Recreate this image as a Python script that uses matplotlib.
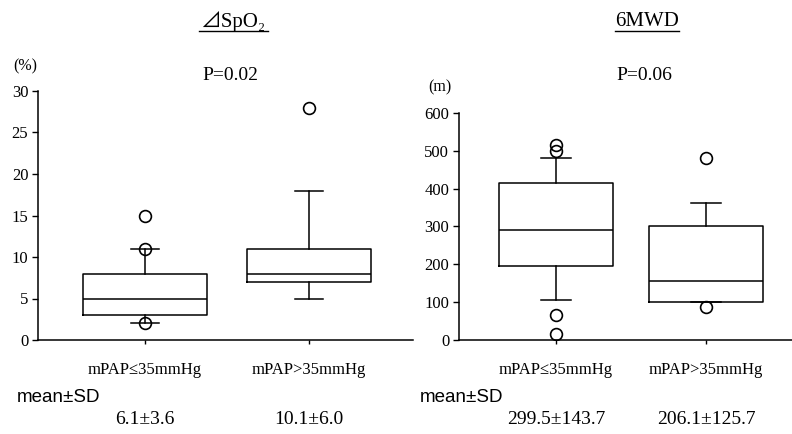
import matplotlib
matplotlib.use("Agg")
import matplotlib.pyplot as plt
from matplotlib.lines import Line2D
from matplotlib.transforms import blended_transform_factory

# ── data ──────────────────────────────────────────────────────────────────────
groups = ["mPAP≤35mmHg", "mPAP>35mmHg"]

spo2_q1 = [3, 7]
spo2_med = [5, 8]
spo2_q3 = [8, 11]
spo2_whislo = [2, 5]
spo2_whishi = [11, 18]
spo2_fliers = [[15, 11, 2], [28]]
spo2_ticks = [0, 5, 10, 15, 20, 25, 30]
spo2_summary = ["6.1±3.6", "10.1±6.0"]

mwd_q1 = [195, 100]
mwd_med = [290, 155]
mwd_q3 = [415, 300]
mwd_whislo = [105, 100]
mwd_whishi = [480, 362]
mwd_fliers = [[515, 500, 65, 15], [482, 88]]
mwd_ticks = [0, 100, 200, 300, 400, 500, 600]
mwd_summary = ["299.5±143.7", "206.1±125.7"]

SERIF = ["Liberation Serif", "Noto Sans CJK JP", "DejaVu Sans"]
plt.rcParams["font.family"] = SERIF

W, H = 792, 434
fig = plt.figure(figsize=(W / 100, H / 100), dpi=100)


def fx(x):
    return x / W


def fy(y):
    return 1 - y / H


def make_stats(q1, med, q3, lo, hi, fl):
    return [dict(q1=a, med=b, q3=c, whislo=d, whishi=e, fliers=f)
            for a, b, c, d, e, f in zip(q1, med, q3, lo, hi, fl)]


def draw_panel(rect, stats, ticks, ylim, xlim, capw):
    ax = fig.add_axes(rect)
    lw = 1.1
    ax.bxp(stats, positions=[1, 2], widths=0.76, capwidths=capw,
           boxprops=dict(color="black", linewidth=lw),
           medianprops=dict(color="black", linewidth=lw),
           whiskerprops=dict(color="black", linewidth=lw),
           capprops=dict(color="black", linewidth=lw),
           flierprops=dict(marker="o", markerfacecolor="none",
                           markeredgecolor="black", markersize=8.5,
                           markeredgewidth=1.2))
    ax.set_ylim(*ylim)
    ax.set_xlim(*xlim)
    ax.set_yticks(ticks)
    ax.set_xticks([1, 2], labels=groups)
    for s in ["top", "right"]:
        ax.spines[s].set_visible(False)
    for s in ["left", "bottom"]:
        ax.spines[s].set_linewidth(1.1)
    ax.tick_params(axis="y", direction="out", length=4, width=1, labelsize=12, pad=3)
    ax.tick_params(axis="x", direction="out", length=3, width=1, labelsize=12, pad=13)
    return ax


ax1 = draw_panel([fx(38), fy(340), fx(413 - 38), (340 - 91) / H],
                 make_stats(spo2_q1, spo2_med, spo2_q3, spo2_whislo, spo2_whishi, spo2_fliers),
                 spo2_ticks, (0, 30), (0.348, 0.348 + 375 / 164), 0.17)

ax2 = draw_panel([fx(459), fy(340), fx(792 - 459), (340 - 113) / H],
                 make_stats(mwd_q1, mwd_med, mwd_q3, mwd_whislo, mwd_whishi, mwd_fliers),
                 mwd_ticks, (0, 600), (0.353, 0.353 + 333 / 150), 0.2)

# titles with underline
fig.text(fx(233), fy(22), "⊿SpO₂", ha="center", va="center", fontsize=15)
fig.add_artist(Line2D([fx(199), fx(268)], [fy(31), fy(31)], color="black", linewidth=1))
fig.text(fx(647), fy(22), "6MWD", ha="center", va="center", fontsize=15)
fig.add_artist(Line2D([fx(615), fx(679)], [fy(31), fy(31)], color="black", linewidth=1))

# p-values and units
fig.text(fx(230), fy(75), "P=0.02", ha="center", va="center", fontsize=14)
fig.text(fx(644), fy(75), "P=0.06", ha="center", va="center", fontsize=14)
fig.text(fx(25), fy(66), "(%)", ha="center", va="center", fontsize=11.5)
fig.text(fx(440), fy(87), "(m)", ha="center", va="center", fontsize=11.5)

# mean ± SD rows
fig.text(fx(17), fy(397), "mean±SD", ha="left", va="center", fontsize=13.5,
         family=["Liberation Sans", "DejaVu Sans"])
fig.text(fx(420), fy(397), "mean±SD", ha="left", va="center", fontsize=13.5,
         family=["Liberation Sans", "DejaVu Sans"])
for ax, summary in [(ax1, spo2_summary), (ax2, mwd_summary)]:
    trans = blended_transform_factory(ax.transData, fig.transFigure)
    for i, s in enumerate(summary):
        ax.text(i + 1, fy(420), s, transform=trans, ha="center", va="center",
                fontsize=14)

fig.savefig("out.png", dpi=100, facecolor="white")
